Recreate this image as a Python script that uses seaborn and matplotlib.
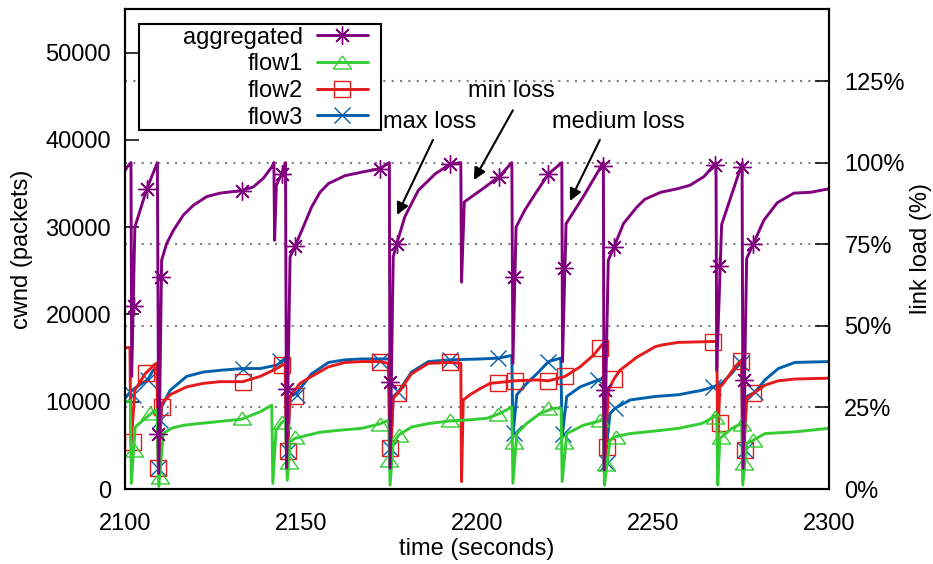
import matplotlib
matplotlib.use("Agg")
import matplotlib.pyplot as plt
import seaborn as sns
from matplotlib.lines import Line2D
from matplotlib.patches import Rectangle
from matplotlib.ticker import MultipleLocator, FixedLocator

# ---- values (time in s, cwnd in packets) ----
agg_t = [2100.0, 2100.8, 2101.7, 2101.9, 2102.8, 2106.2, 2109.2, 2109.6, 2110.4, 2110.7,
         2111.8, 2113.7, 2116.6, 2119.4, 2123.2, 2127.0, 2133.1, 2136.4, 2139.3, 2141.7,
         2142.3, 2142.5, 2143.0, 2144.5, 2145.6, 2145.9, 2146.9, 2148.3, 2150.2, 2153.0,
         2155.4, 2157.8, 2162.5, 2167.2, 2172.4, 2175.1, 2175.3, 2176.2, 2177.2, 2179.5,
         2183.3, 2188.1, 2192.3, 2195.4, 2195.6, 2196.4, 2201.3, 2206.3, 2209.9, 2210.2,
         2211.1, 2213.5, 2216.5, 2220.3, 2224.1, 2224.3, 2225.3, 2230.2, 2235.9, 2236.1,
         2237.3, 2238.9, 2241.6, 2245.4, 2247.7, 2252.2, 2256.9, 2260.5, 2264.5, 2267.9,
         2268.1, 2269.5, 2275.3, 2275.6, 2276.6, 2278.5, 2281.5, 2285.3, 2290.0, 2294.8,
         2300.0]
agg_v = [36500, 37000, 37400, 12900, 30000, 34400, 37400, 1800, 26200, 26600,
         28100, 29600, 31400, 32500, 33500, 33900, 34200, 34600, 35600, 36900,
         37400, 28500, 34800, 36100, 37400, 2400, 26600, 27800, 29600, 32300,
         34000, 35000, 35900, 36300, 36700, 37400, 2400, 26600, 28100, 31200,
         34200, 36100, 37200, 37400, 23700, 32900, 34300, 35800, 37400, 14400,
         30000, 31900, 33800, 36100, 37400, 14600, 30400, 33500, 37400, 2200,
         26200, 27700, 30400, 32300, 33200, 34000, 34400, 34800, 35800, 37400,
         13600, 30300, 37300, 2400, 26400, 28100, 30800, 32800, 33900, 34000,
         34400]
agg_mt = [2102.5, 2106.2, 2109.5, 2110.3, 2133.1, 2144.5, 2146.1, 2148.3, 2172.4, 2175.3,
          2177.2, 2192.3, 2206.3, 2210.5, 2220.3, 2224.6, 2235.9, 2236.4, 2238.9, 2267.6,
          2268.7, 2275.2, 2275.9, 2278.5]
agg_mv = [21000, 34400, 6300, 24300, 34200, 36100, 11500, 27900, 36700, 12300,
          28100, 37200, 35800, 24300, 36100, 25300, 37000, 11400, 27700, 37100,
          25600, 36900, 12500, 28100]

f1_t = [2100.0, 2101.5, 2101.8, 2102.9, 2105.5, 2108.0, 2109.1, 2109.6, 2110.9, 2113.5,
        2116.6, 2121.0, 2126.0, 2133.1, 2138.4, 2141.7, 2142.0, 2142.9, 2144.5, 2145.6,
        2146.1, 2146.9, 2148.3, 2150.2, 2155.4, 2160.0, 2167.2, 2172.4, 2174.9, 2175.3,
        2176.2, 2177.8, 2181.4, 2186.2, 2192.3, 2197.0, 2202.8, 2206.5, 2209.9, 2210.2,
        2211.3, 2214.1, 2217.9, 2221.7, 2223.9, 2224.2, 2225.5, 2230.2, 2234.9, 2235.9,
        2236.2, 2237.8, 2239.4, 2243.5, 2250.6, 2257.2, 2263.8, 2267.6, 2268.1, 2268.4,
        2269.0, 2272.4, 2275.2, 2275.5, 2276.6, 2278.5, 2281.8, 2290.3, 2300.0]
f1_v = [10000, 10100, 650, 7100, 8000, 8850, 9100, 300, 6400, 7000,
        7300, 7500, 7700, 8000, 8850, 9600, 650, 6750, 7600, 7900,
        1000, 5400, 5800, 6000, 6500, 6700, 6950, 7450, 7900, 450,
        5200, 6200, 7100, 7500, 7800, 7900, 8100, 8650, 9400, 650,
        6350, 7500, 8650, 9250, 9250, 850, 6350, 7300, 7800, 8100,
        450, 5600, 6000, 6350, 6650, 6950, 7500, 8300, 8500, 450,
        5800, 6950, 7500, 450, 5200, 5600, 6350, 6550, 6950]
f1_mt = [2102.6, 2107.1, 2110.0, 2133.1, 2144.5, 2146.6, 2148.3, 2172.4, 2175.1, 2177.8,
         2192.3, 2206.1, 2210.4, 2220.3, 2224.7, 2234.9, 2236.6, 2239.4, 2267.6, 2269.2,
         2275.2, 2275.9, 2278.5]
f1_mv = [4500, 8700, 1400, 8100, 7700, 3100, 6000, 7450, 3300, 6200,
         7900, 8650, 5400, 9250, 5400, 7900, 2850, 6000, 8300, 6000,
         7500, 2950, 5600]

f2_t = [2100.0, 2101.4, 2101.7, 2102.8, 2105.7, 2108.5, 2109.1, 2109.5, 2110.4, 2112.8,
        2117.5, 2122.2, 2127.0, 2133.4, 2138.4, 2143.1, 2145.5, 2145.9, 2146.9, 2149.7,
        2153.0, 2157.8, 2162.5, 2167.2, 2172.4, 2174.8, 2175.3, 2176.2, 2177.6, 2181.4,
        2186.2, 2192.3, 2195.4, 2195.6, 2196.1, 2198.0, 2200.9, 2203.7, 2206.1, 2210.8,
        2217.0, 2220.3, 2225.0, 2229.3, 2233.0, 2235.9, 2236.2, 2237.3, 2238.9, 2240.6,
        2245.4, 2250.6, 2252.5, 2257.2, 2267.1, 2268.1, 2268.4, 2269.0, 2270.0, 2273.3,
        2275.2, 2275.5, 2276.6, 2278.5, 2281.8, 2285.6, 2290.3, 2300.0]
f2_v = [16200, 16200, 5000, 11300, 13200, 14300, 14400, 2000, 9800, 10800,
        11700, 12100, 12300, 12300, 12900, 13800, 14400, 2500, 10600, 12100,
        12900, 14000, 14500, 14600, 14600, 14400, 2500, 10400, 11000, 13200,
        14400, 14500, 14400, 850, 10200, 10800, 11500, 12100, 12200, 12400,
        12500, 12400, 12900, 14000, 15300, 16700, 2000, 11300, 12600, 13600,
        15100, 16300, 16500, 16800, 16900, 16900, 5500, 11700, 12100, 14000,
        14800, 2000, 10400, 10950, 11900, 12400, 12600, 12700]
f2_mt = [2102.4, 2106.0, 2109.5, 2110.4, 2133.4, 2144.5, 2146.4, 2148.3, 2172.4, 2175.3,
         2177.6, 2192.3, 2206.1, 2210.8, 2220.3, 2225.0, 2234.9, 2236.8, 2238.9, 2267.1,
         2269.0, 2275.0, 2276.1, 2278.5]
f2_mv = [5400, 13300, 2400, 9400, 12300, 14200, 4300, 10600, 14600, 4650,
         11000, 14500, 12200, 12400, 12400, 12900, 16200, 4850, 12600, 16900,
         7600, 14700, 4450, 10950]

f3_t = [2100.0, 2101.7, 2103.3, 2106.4, 2108.0, 2109.1, 2109.5, 2110.4, 2112.8, 2117.5,
        2122.2, 2127.0, 2133.4, 2138.4, 2143.1, 2145.6, 2145.9, 2146.9, 2148.8, 2153.0,
        2157.8, 2162.5, 2167.2, 2175.1, 2175.3, 2176.2, 2177.6, 2181.4, 2186.2, 2192.3,
        2200.9, 2206.1, 2209.9, 2210.2, 2211.3, 2214.1, 2217.0, 2220.3, 2223.8, 2224.2,
        2225.5, 2229.3, 2234.5, 2235.9, 2236.2, 2237.8, 2239.2, 2243.5, 2250.6, 2257.2,
        2263.8, 2267.1, 2269.5, 2272.5, 2275.2, 2275.5, 2276.6, 2279.0, 2281.8, 2285.6,
        2290.3, 2300.0]
f3_v = [10400, 11200, 11700, 12500, 13600, 13900, 2000, 9400, 11300, 12900,
        13400, 13600, 13800, 13800, 14200, 14900, 2500, 10600, 11000, 13200,
        14500, 14800, 14900, 14900, 2500, 10600, 11100, 13400, 14600, 14800,
        14900, 15000, 15300, 6000, 10800, 12100, 13200, 14600, 15000, 6000,
        10600, 11700, 12500, 12600, 2500, 8650, 9250, 10200, 10600, 10800,
        11300, 11700, 12100, 13300, 14800, 2500, 10600, 11100, 12500, 13800,
        14500, 14600]
f3_mt = [2102.4, 2106.4, 2109.5, 2110.0, 2133.4, 2144.0, 2146.4, 2148.8, 2172.4, 2175.3,
         2177.6, 2192.3, 2206.1, 2210.4, 2220.3, 2224.5, 2234.5, 2236.8, 2239.2, 2267.1,
         2274.9, 2276.1, 2279.0]
f3_mv = [10800, 12500, 2400, 7900, 13800, 14700, 4300, 10800, 14700, 4650,
         11100, 14800, 15000, 6450, 14600, 6350, 12500, 2950, 9250, 11700,
         14400, 4450, 11100]

series_names = ["aggregated", "flow1", "flow2", "flow3"]
link_cap = 37400            # cwnd that equals 100 % link load
load_pct = [0, 25, 50, 75, 100, 125]

annot_labels = ["max loss", "min loss", "medium loss"]
annot_text = [(2186.6, 42100), (2209.7, 45600), (2240.1, 42100)]
annot_tail = [(2187.5, 40000), (2210.2, 43400), (2234.9, 40000)]
annot_tip = [(2177.3, 31400), (2199.1, 35400), (2226.4, 33000)]

# ---- style ----
sns.set_theme(style="white")
plt.rcParams["font.family"] = ["Liberation Sans", "DejaVu Sans"]
plt.rcParams.update({
    "font.size": 17,
    "axes.labelsize": 17,
    "xtick.labelsize": 17,
    "ytick.labelsize": 17,
    "legend.fontsize": 17,
    "axes.linewidth": 1.5,
    "axes.edgecolor": "black",
    "axes.labelcolor": "black",
    "text.color": "black",
    "xtick.color": "black",
    "ytick.color": "black",
    "xtick.direction": "in",
    "ytick.direction": "in",
})

colors = {"aggregated": "#800080", "flow1": "#33cc33",
          "flow2": "#e41a1c", "flow3": "#0060ad"}
tri = [(0, 0.72), (-1, -0.72), (1, -0.72), (0, 0.72)]
marks = {
    "aggregated": dict(marker=(8, 2, 0), ms=13),
    "flow1": dict(marker=tri, ms=13),
    "flow2": dict(marker="s", ms=11),
    "flow3": dict(marker="x", ms=12),
}
data = {
    "aggregated": (agg_t, agg_v, agg_mt, agg_mv),
    "flow1": (f1_t, f1_v, f1_mt, f1_mv),
    "flow2": (f2_t, f2_v, f2_mt, f2_mv),
    "flow3": (f3_t, f3_v, f3_mt, f3_mv),
}

fig = plt.figure(figsize=(9.33, 5.64), dpi=100)
ax = fig.add_axes([125 / 933, 75 / 564, 704 / 933, 480 / 564])

# draw back to front like gnuplot: flow3 first, aggregated on top
for name in reversed(series_names):
    t, v, mt, mv = data[name]
    sns.lineplot(x=t, y=v, ax=ax, color=colors[name], lw=2.1,
                 estimator=None, sort=False)
    ax.plot(mt, mv, ls="none", color=colors[name], mfc="none", mew=1.0,
            **marks[name])

ax.set_xlim(2100, 2300)
ax.set_ylim(0, 55000)
ax.xaxis.set_major_locator(MultipleLocator(50))
ax.xaxis.set_minor_locator(MultipleLocator(10))
ax.yaxis.set_major_locator(MultipleLocator(10000))
ax.yaxis.set_minor_locator(FixedLocator([link_cap * p / 100 for p in load_pct[1:]]))
ax.tick_params(axis="x", which="major", length=10, width=1.1, pad=17, top=False)
ax.tick_params(axis="x", which="minor", length=5, width=1.1, top=False)
ax.tick_params(axis="y", which="major", length=10, width=1.1, pad=10)
ax.tick_params(axis="y", which="minor", length=0)
ax.grid(False)
ax.yaxis.grid(True, which="minor", ls=(0, (1, 3)), color="gray", lw=1.5)
ax.set_axisbelow(True)

ax.set_xlabel("time (seconds)")
ax.set_ylabel("cwnd (packets)")
ax.xaxis.set_label_coords(0.5, -0.102)
ax.yaxis.set_label_coords(-0.13, 0.5)

ax2 = ax.twinx()
ax2.set_ylim(0, 55000 / link_cap * 100)
ax2.set_yticks(load_pct)
ax2.set_yticklabels([f"{p}%" for p in load_pct])
ax2.tick_params(axis="y", length=10, width=1.1, pad=11)
ax2.set_ylabel("link load (%)")
ax2.yaxis.set_label_coords(1.115, 0.5)
for sp in ax2.spines.values():
    sp.set_linewidth(1.5)

# loss annotations
for lab, txy, tail, tip in zip(annot_labels, annot_text, annot_tail, annot_tip):
    ax.text(txy[0], txy[1], lab, ha="center", va="center")
    ax.annotate("", xy=tip, xytext=tail,
                arrowprops=dict(arrowstyle="-|>", color="black", lw=1.5,
                                mutation_scale=18, shrinkA=0, shrinkB=0))

# legend: opaque box, labels right-aligned and samples on the right
ax.add_patch(Rectangle((0.02, 0.748), 0.3436, 0.221, transform=ax.transAxes,
                       fc="white", ec="black", lw=1.5, zorder=4))
handles = [Line2D([], [], color=colors[n], lw=2.1, mfc="none", mew=1.0, **marks[n])
           for n in series_names]
leg = ax.legend(handles, series_names, loc="center right",
                bbox_to_anchor=(0.345, 0.857), frameon=False, markerfirst=False,
                handlelength=2.16, handletextpad=0.6, labelspacing=0.2,
                borderpad=0, borderaxespad=0, fontsize=17)
leg._legend_handle_box.get_children()[0].align = "right"
leg.set_zorder(5)

fig.savefig("out.png", dpi=100)
